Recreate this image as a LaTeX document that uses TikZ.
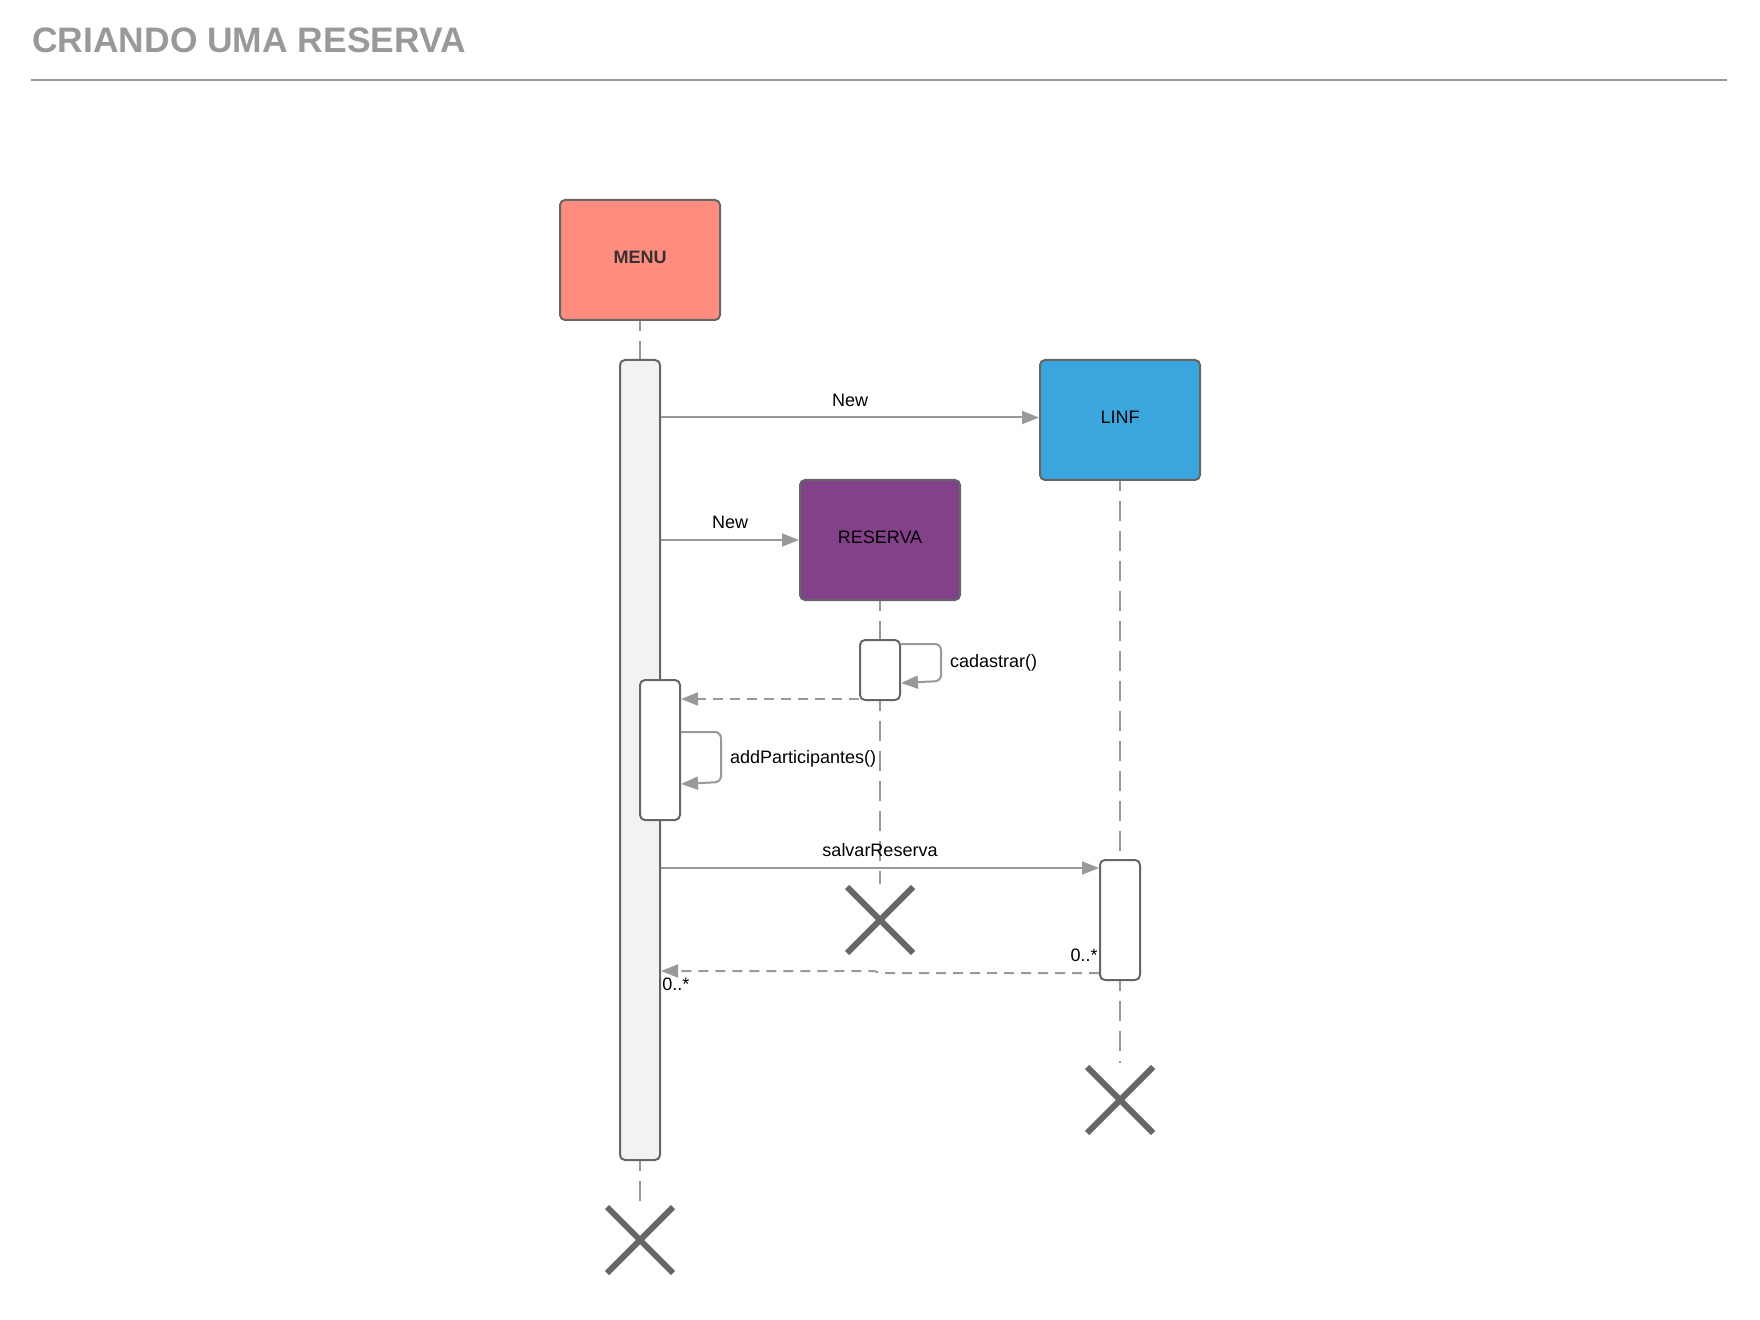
\documentclass[tikz,border=0pt]{standalone}
\usepackage{fontspec}
\setmainfont{Liberation Sans}
\usetikzlibrary{arrows.meta,shapes.misc,calc}
\definecolor{bord}{HTML}{666666}
\definecolor{lgray}{HTML}{999999}
\definecolor{menuc}{HTML}{FF8C7F}
\definecolor{linfc}{HTML}{3AA6DD}
\definecolor{resc}{HTML}{83418A}
\definecolor{actc}{HTML}{F2F2F2}
\definecolor{titc}{HTML}{999999}
\definecolor{dark}{HTML}{333333}
\begin{document}
\begin{tikzpicture}[x=0.5pt,y=-0.5pt,
  txt/.style={font=\fontsize{9pt}{11pt}\selectfont, inner sep=0pt},
  objbox/.style={draw=bord, line width=1pt, rounded corners=2.5pt, minimum width=80pt, minimum height=60pt, inner sep=0pt, text height=6.5pt, text depth=2.5pt, font=\fontsize{9pt}{11pt}\selectfont},
  act/.style={draw=bord, line width=1pt, rounded corners=2.5pt, fill=white, minimum width=20pt, inner sep=0pt},
  life/.style={draw=lgray, line width=1pt, dash pattern=on 10pt off 5pt, dash phase=5pt},
  msg/.style={draw=lgray, line width=1pt, -{Triangle[length=8.5pt,width=6.5pt]}},
  ret/.style={msg, dash pattern=on 5pt off 3.5pt},
  xmark/.style={cross out, draw=bord, line width=3pt, minimum size=30pt, inner sep=0pt}]
\useasboundingbox (0,0) rectangle (1760,1320);
\node[anchor=base west, inner sep=0pt, font=\fontsize{17.7pt}{20pt}\selectfont\bfseries, text=titc] (title) at (32,53) {CRIANDO UMA RESERVA};
\draw[lgray, line width=1pt] (31,80) -- (1727,80);

\node[objbox, fill=menuc, font=\fontsize{9pt}{11pt}\selectfont\bfseries, text=dark] (menu) at (640,260) {MENU};
\node[objbox, fill=linfc] (linf) at (1120,420) {LINF};
\node[objbox, fill=resc] (reserva) at (880,540) {RESERVA};

\draw[life] (menu.south) -- (640,360);
\draw[life] (reserva.south) -- (880,640);
\draw[life] (linf.south) -- (1120,860);

\node[act, fill=actc, minimum height=400pt] (am) at (640,760) {};
\node[act, minimum height=30pt] (ar) at (880,670) {};
\node[act, minimum height=70pt] (am2) at (660,750) {};
\node[act, minimum height=60pt] (al) at (1120,920) {};
\node[xmark] (xm) at (640,1240) {};
\node[xmark] (xr) at (880,920) {};
\node[xmark] (xl) at (1120,1100) {};

\draw[life] (am.south) -- ([yshift=3pt]xm.north);
\draw[life] (ar.south) -- ([yshift=1.5pt]xr.north);
\draw[life] (al.south) -- ([yshift=2pt]xl.north);

\coordinate (n1) at ([yshift=1.25pt]linf.west);
\draw[msg] (am.east |- n1) -- node[txt, above=5pt] {New} (n1);
\draw[msg] (am.east |- reserva.west) -- node[txt, above=5pt] {New} (reserva.west);

\draw[msg, rounded corners=3pt] ([yshift=-2.5pt]ar.north east) -- ++(40,0) -- node[txt, right=4pt] {cadastrar()} ++(0,37) -- ([yshift=9pt]ar.south east);

\coordinate (r0) at ([yshift=1pt]ar.south west);
\draw[ret] (r0) -- (r0 -| am2.east);

\draw[msg, rounded corners=3pt] ([yshift=-26.5pt]am2.north east) -- ++(40,0) -- node[txt, right=4pt, yshift=-1pt] {addParticipantes()} ++(0,50) -- ([yshift=18.5pt]am2.south east);

\coordinate (s1) at ([yshift=-4.5pt]al.north west);
\draw[msg] (am.east |- s1) -- node[txt, above=5pt] {salvarReserva} (s1);

\coordinate (r1) at ([yshift=4pt]al.south west);
\coordinate (r2) at ($(am.east |- r1)+(0,-2)$);
\draw[ret] (r1) -- (r1 -| xr) -- ($(r1 -| xr)+(-6,-2)$) -- (r2);
\node[txt, anchor=base east] (l1) at ($(r1)+(-1,-12)$) {0..*};
\node[txt, anchor=base west] (l2) at ($(r2)+(1,19)$) {0..*};
\end{tikzpicture}
\end{document}
